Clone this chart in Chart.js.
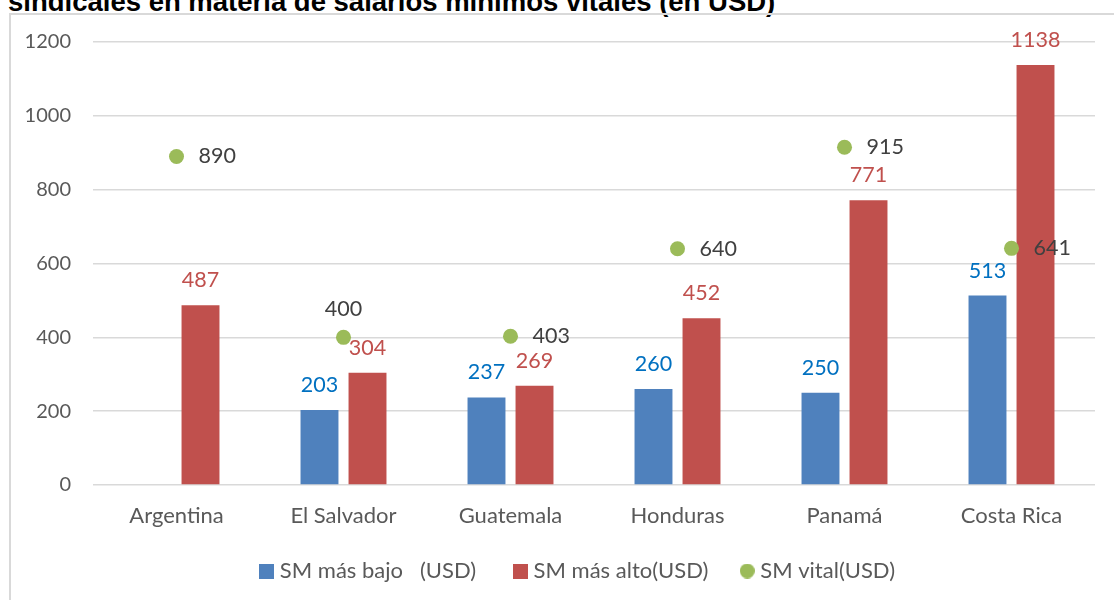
<!DOCTYPE html>
<html>
<head>
<meta charset="utf-8">
<script src="https://cdn.jsdelivr.net/npm/chart.js@4"></script>
<style>
  html, body { margin: 0; padding: 0; background: #fff; overflow: hidden; }
  #wrap { position: relative; width: 1114px; height: 600px; }
  #frame { position: absolute; left: 9px; top: 13px; width: 1120px; height: 600px; border-left: 2px solid #d9d9d9; border-top: 2px solid #d9d9d9; }
  #title { position: absolute; left: 8px; top: -12px; font: bold 27.5px "Liberation Sans", Arial, sans-serif; line-height: 27px; color: #000; white-space: nowrap; }
  #visitChart { position: absolute; left: 0; top: 0; }
</style>
</head>
<body>
<div id="wrap">
  <div id="title">sindicales en materia de salarios mínimos vitales (en USD)</div>
  <div id="frame"></div>
  <canvas id="visitChart" width="1114" height="600"></canvas>
</div>
<script>
// 데이터
const paises = ['Argentina', 'El Salvador', 'Guatemala', 'Honduras', 'Panamá', 'Costa Rica'];
const smBajo = [null, 203, 237, 260, 250, 513];
const smAlto = [487, 304, 269, 452, 771, 1138];
const smVital = [890, 400, 403, 640, 915, 641];
const yTicks = [0, 200, 400, 600, 800, 1000, 1200];
const nombres = ['SM más bajo   (USD)', 'SM más alto(USD)', 'SM vital(USD)'];

// 라벨 위치 (SM vital)
const vitalPos = ['right', 'top', 'right', 'right', 'right', 'right'];

const FONT = 'Lato, "Open Sans", sans-serif';
const colores = ['#4F81BD', '#C0504D', '#9BBB59'];

// 범례 마커 (캔버스 이미지)
function marker(color, round) {
  const c = document.createElement('canvas');
  c.width = 15;
  c.height = 15;
  const g = c.getContext('2d');
  g.fillStyle = color;
  if (round) {
    g.beginPath();
    g.arc(7.5, 7.5, 7.5, 0, Math.PI * 2);
    g.fill();
  } else {
    g.fillRect(0, 0, 15, 15);
  }
  return c;
}
const marcadores = [marker(colores[0], false), marker(colores[1], false), marker(colores[2], true)];
// 범례 간격 조정용 공백
const espacios = ['    ', '   ', '     '];

// 값 라벨 그리기
const valueLabels = {
  id: 'valueLabels',
  afterDatasetsDraw(chart) {
    const ctx = chart.ctx;
    ctx.save();
    ctx.font = '21.5px ' + FONT;
    ctx.textBaseline = 'middle';
    chart.data.datasets.forEach((ds, i) => {
      const meta = chart.getDatasetMeta(i);
      meta.data.forEach((el, j) => {
        const v = ds.data[j];
        if (v === null || v === undefined) return;
        if (i < 2) {
          ctx.fillStyle = i === 0 ? '#0070C0' : '#C0504D';
          ctx.textAlign = 'center';
          ctx.fillText(String(v), el.x, el.y - 25);
        } else {
          ctx.fillStyle = '#404040';
          if (vitalPos[j] === 'top') {
            ctx.textAlign = 'center';
            ctx.fillText(String(v), el.x, el.y - 28);
          } else {
            ctx.textAlign = 'left';
            ctx.fillText(String(v), el.x + 22, el.y);
          }
        }
      });
    });
    ctx.restore();
  }
};

const data = {
  labels: paises,
  datasets: [{
    label: nombres[0],
    data: smBajo,
    backgroundColor: colores[0],
    categoryPercentage: 0.575,
    barPercentage: 0.79,
    order: 2
  }, {
    label: nombres[1],
    data: smAlto,
    backgroundColor: colores[1],
    categoryPercentage: 0.575,
    barPercentage: 0.79,
    order: 2
  }, {
    type: 'line',
    label: nombres[2],
    data: smVital,
    showLine: false,
    pointRadius: 7.5,
    pointHoverRadius: 7.5,
    pointBackgroundColor: colores[2],
    pointBorderWidth: 0,
    backgroundColor: colores[2],
    borderColor: colores[2],
    order: 1
  }]
};

const config = {
  type: 'bar',
  data: data,
  options: {
    responsive: false,
    animation: false,
    layout: { padding: { top: 42, right: 19, left: 0, bottom: 8 } },
    plugins: {
      tooltip: { enabled: false },
      legend: {
        position: 'bottom',
        fullSize: false,
        labels: {
          font: { family: FONT, size: 22 },
          color: '#595959',
          usePointStyle: true,
          boxHeight: 15,
          pointStyleWidth: 4,
          padding: 20,
          generateLabels(chart) {
            const items = Chart.defaults.plugins.legend.labels.generateLabels(chart);
            items.sort((a, b) => a.datasetIndex - b.datasetIndex);
            items.forEach((it) => {
              const i = it.datasetIndex;
              it.pointStyle = marcadores[i];
              it.lineWidth = 0;
              it.text = it.text + espacios[i];
            });
            return items;
          }
        }
      }
    },
    scales: {
      x: {
        grid: { display: false, drawTicks: false },
        border: { display: false },
        ticks: { font: { family: FONT, size: 22 }, color: '#595959', padding: 18 },
        afterFit(scale) { scale.height = 55; }
      },
      y: {
        min: 0,
        max: 1200,
        afterBuildTicks(scale) { scale.ticks = yTicks.map(v => ({ value: v })); },
        grid: { color: '#d9d9d9', lineWidth: 1.5, drawTicks: false },
        border: { display: false },
        ticks: {
          font: { family: FONT, size: 20 },
          color: '#595959',
          padding: 22,
          callback: (value) => String(value)
        },
        afterFit(scale) { scale.width = 93; }
      }
    }
  },
  plugins: [valueLabels]
};

const ctx = document.getElementById('visitChart');
new Chart(ctx, config);
</script>
</body>
</html>
